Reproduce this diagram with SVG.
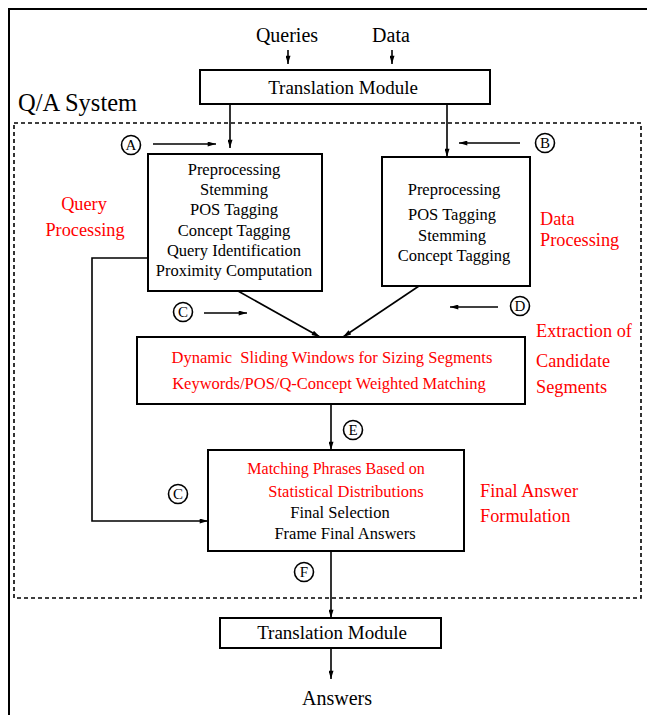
<svg xmlns="http://www.w3.org/2000/svg" width="647" height="715" viewBox="0 0 647 715">
<defs>
<marker id="ah" viewBox="0 0 10 6" refX="10" refY="3" markerWidth="9" markerHeight="5" markerUnits="userSpaceOnUse" orient="auto">
<path d="M0,0 L10,3 L0,6 Z" fill="#000"/>
</marker>
</defs>
<style>
text{fill:#000}
.t{font-size:16.5px;text-anchor:middle}
.r{fill:#f00}
.l{font-size:18.3px}
.box{fill:#fff;stroke:#000;stroke-width:2}
.ln{fill:none;stroke:#000;stroke-width:1.6}
.c{fill:#fff;stroke:#000;stroke-width:1.6}
.ct{font-size:15px;text-anchor:middle}
</style>
<rect x="9" y="9" width="700" height="800" fill="none" stroke="#000" stroke-width="2"/>
<rect x="14" y="123" width="627" height="475" fill="none" stroke="#000" stroke-width="1.6" stroke-dasharray="4,3"/>
<text font-family="Liberation Serif" x="18" y="111" font-size="24.5">Q/A System</text>
<text font-family="Liberation Serif" x="287" y="42" class="t" style="font-size:20px">Queries</text>
<text font-family="Liberation Serif" x="391" y="42" class="t" style="font-size:20px">Data</text>
<g id="connectors">
<line class="ln" x1="288" y1="50" x2="288" y2="64" marker-end="url(#ah)"/>
<line class="ln" x1="392" y1="50" x2="392" y2="64" marker-end="url(#ah)"/>
<line class="ln" x1="230" y1="104" x2="230" y2="148" marker-end="url(#ah)"/>
<line class="ln" x1="447" y1="104" x2="447" y2="157" marker-end="url(#ah)"/>
<line class="ln" x1="153" y1="144" x2="216" y2="144" marker-end="url(#ah)"/>
<line class="ln" x1="520" y1="143" x2="459" y2="143" marker-end="url(#ah)"/>
<line class="ln" x1="204" y1="313" x2="247" y2="313" marker-end="url(#ah)"/>
<line class="ln" x1="498" y1="307" x2="450" y2="307" marker-end="url(#ah)"/>
<line class="ln" x1="238" y1="291" x2="320" y2="337" marker-end="url(#ah)"/>
<line class="ln" x1="419" y1="286" x2="343" y2="337" marker-end="url(#ah)"/>
<line class="ln" x1="331" y1="404" x2="331" y2="450" marker-end="url(#ah)"/>
<polyline class="ln" points="148,258 92,258 92,521 208,521" marker-end="url(#ah)"/>
<line class="ln" x1="331" y1="551" x2="331" y2="618" marker-end="url(#ah)"/>
<line class="ln" x1="331" y1="648" x2="331" y2="679" marker-end="url(#ah)"/>
</g>
<g id="translation-top">
<rect class="box" x="200" y="70" width="290" height="34"/>
<text font-family="Liberation Serif" class="t" x="343" y="94" style="font-size:19px">Translation Module</text>
</g>
<g id="circle-A"><circle class="c" cx="131" cy="145" r="9.5"/><text font-family="Liberation Serif" class="ct" x="131" y="150">A</text></g>
<g id="circle-B"><circle class="c" cx="545" cy="143" r="9.5"/><text font-family="Liberation Serif" class="ct" x="545" y="148">B</text></g>
<g id="query-box">
<rect class="box" x="148" y="154" width="174" height="137"/>
<text font-family="Liberation Serif" class="t" x="234" y="175">Preprocessing</text>
<text font-family="Liberation Serif" class="t" x="234" y="195">Stemming</text>
<text font-family="Liberation Serif" class="t" x="234" y="215">POS Tagging</text>
<text font-family="Liberation Serif" class="t" x="234" y="236">Concept Tagging</text>
<text font-family="Liberation Serif" class="t" x="234" y="256">Query Identification</text>
<text font-family="Liberation Serif" class="t" x="234" y="276">Proximity Computation</text>
</g>
<g id="query-label">
<text font-family="Liberation Serif" class="l r" x="84" y="210" text-anchor="middle">Query</text>
<text font-family="Liberation Serif" class="l r" x="85" y="236" text-anchor="middle">Processing</text>
</g>
<g id="data-box">
<rect class="box" x="382" y="157" width="148" height="129"/>
<text font-family="Liberation Serif" class="t" x="454" y="195">Preprocessing</text>
<text font-family="Liberation Serif" class="t" x="452" y="220">POS Tagging</text>
<text font-family="Liberation Serif" class="t" x="452" y="241">Stemming</text>
<text font-family="Liberation Serif" class="t" x="454" y="261">Concept Tagging</text>
</g>
<g id="data-label">
<text font-family="Liberation Serif" class="l r" x="540" y="225">Data</text>
<text font-family="Liberation Serif" class="l r" x="540" y="246">Processing</text>
</g>
<g id="circle-C1"><circle class="c" cx="183" cy="312" r="9.5"/><text font-family="Liberation Serif" class="ct" x="183" y="317">C</text></g>
<g id="circle-D"><circle class="c" cx="520" cy="306" r="9.5"/><text font-family="Liberation Serif" class="ct" x="520" y="311">D</text></g>
<g id="extraction-box">
<rect class="box" x="137" y="337" width="388" height="67"/>
<text font-family="Liberation Serif" class="t r" x="332" y="363" xml:space="preserve">Dynamic  Sliding Windows for Sizing Segments</text>
<text font-family="Liberation Serif" class="t r" x="329" y="389">Keywords/POS/Q-Concept Weighted Matching</text>
</g>
<g id="extraction-label">
<text font-family="Liberation Serif" class="l r" x="536" y="337">Extraction of</text>
<text font-family="Liberation Serif" class="l r" x="536" y="367">Candidate</text>
<text font-family="Liberation Serif" class="l r" x="536" y="393">Segments</text>
</g>
<g id="circle-E"><circle class="c" cx="353" cy="430" r="9.5"/><text font-family="Liberation Serif" class="ct" x="353" y="435">E</text></g>
<g id="final-box">
<rect class="box" x="208" y="450" width="256" height="101"/>
<text font-family="Liberation Serif" class="t r" x="336" y="474" style="font-size:16px">Matching Phrases Based on</text>
<text font-family="Liberation Serif" class="t r" x="346" y="497">Statistical Distributions</text>
<text font-family="Liberation Serif" class="t" x="340" y="518">Final Selection</text>
<text font-family="Liberation Serif" class="t" x="345" y="539">Frame Final Answers</text>
</g>
<g id="final-label">
<text font-family="Liberation Serif" class="l r" x="480" y="497">Final Answer</text>
<text font-family="Liberation Serif" class="l r" x="480" y="522">Formulation</text>
</g>
<g id="circle-C2"><circle class="c" cx="178" cy="494" r="9.5"/><text font-family="Liberation Serif" class="ct" x="178" y="499">C</text></g>
<g id="circle-F"><circle class="c" cx="304" cy="572" r="9.5"/><text font-family="Liberation Serif" class="ct" x="304" y="577">F</text></g>
<g id="translation-bottom">
<rect class="box" x="220" y="618" width="221" height="30"/>
<text font-family="Liberation Serif" class="t" x="332" y="639" style="font-size:19px">Translation Module</text>
</g>
<text font-family="Liberation Serif" class="t" x="337" y="705" style="font-size:20px">Answers</text>
</svg>
